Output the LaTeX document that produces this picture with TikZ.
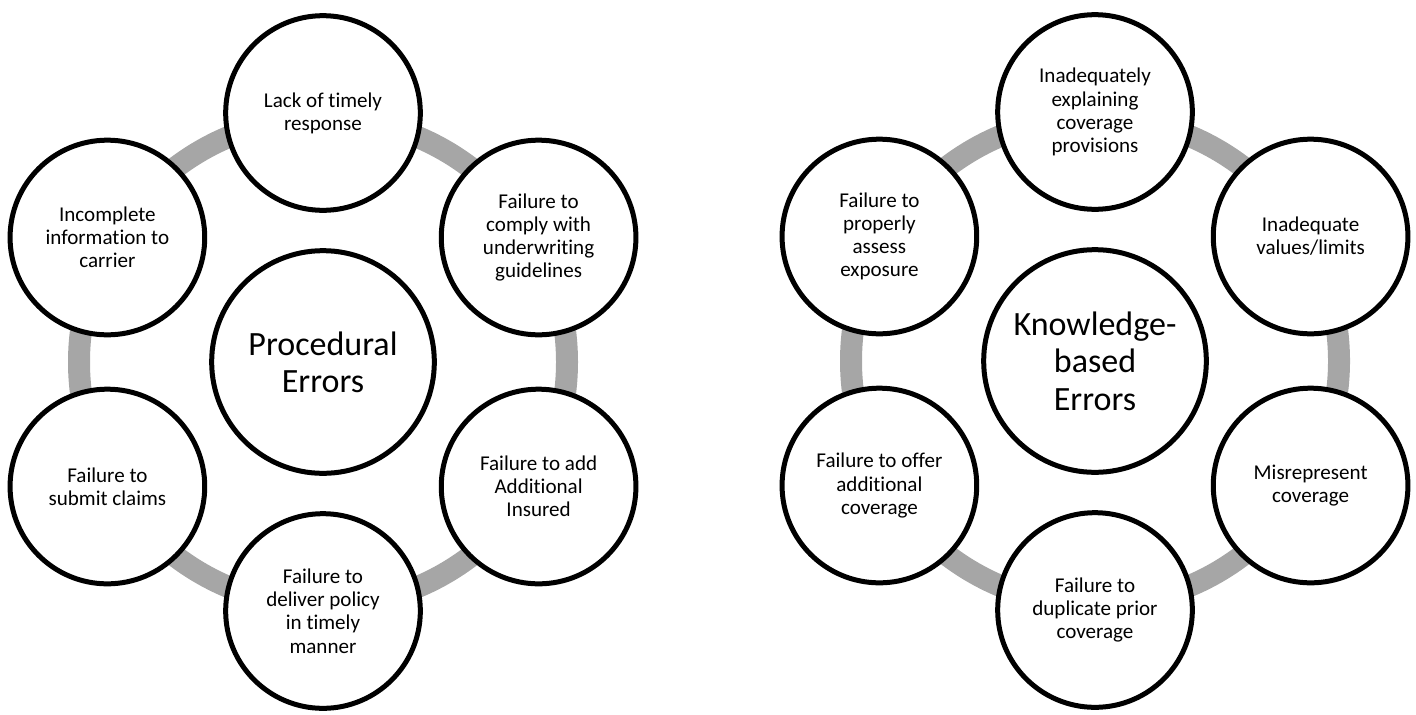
\documentclass[tikz,border=0pt]{standalone}
\usepackage{fontspec}
\setmainfont[RawFeature=-liga]{Carlito}
\begin{document}
\begin{tikzpicture}[x=0.75pt,y=-0.75pt,
  ring/.style={draw=ringgray,line width=16.5pt},
  outer/.style={circle,draw=black,line width=3.75pt,fill=white,minimum size=146pt,inner sep=0pt,align=center,font=\fontsize{15.8}{17.4}\selectfont},
  hub/.style={circle,draw=black,line width=3.75pt,fill=white,minimum size=167pt,inner sep=0pt,align=center,font=\fontsize{25.5}{28}\selectfont}]
\definecolor{ringgray}{HTML}{A6A6A6}
\useasboundingbox (0,0) rectangle (1416,714);
% left cycle
\coordinate (LC) at (323,362);
\draw[ring] (LC) circle[radius=183pt];
\node[hub] (lhub) at (LC) {Procedural\\Errors};
\node[outer] (l1) at (323,113) {Lack of timely\\response};
\node[outer] (l2) at (538.6,237.5) {Failure to\\comply with\\underwriting\\guidelines};
\node[outer] (l3) at (538.6,486.5) {Failure to add\\Additional\\Insured};
\node[outer] (l4) at (323,611) {Failure to\\deliver policy\\in timely\\manner};
\node[outer] (l5) at (107.4,486.5) {Failure to\\submit claims};
\node[outer] (l6) at (107.4,237.5) {Incomplete\\information to\\carrier};
% right cycle
\coordinate (RC) at (1095,361);
\draw[ring] (RC) circle[radius=183pt];
\node[hub] (rhub) at (RC) {Knowledge-\\based\\Errors};
\node[outer] (r1) at (1095,112) {Inadequately\\explaining\\coverage\\provisions};
\node[outer] (r2) at (1310.6,236.5) {Inadequate\\values/limits};
\node[outer] (r3) at (1310.6,485.5) {Misrepresent\\coverage};
\node[outer] (r4) at (1095,610) {Failure to\\duplicate prior\\coverage};
\node[outer] (r5) at (879.4,485.5) {Failure to offer\\additional\\coverage};
\node[outer] (r6) at (879.4,236.5) {Failure to\\properly\\assess\\exposure};
\end{tikzpicture}
\end{document}
